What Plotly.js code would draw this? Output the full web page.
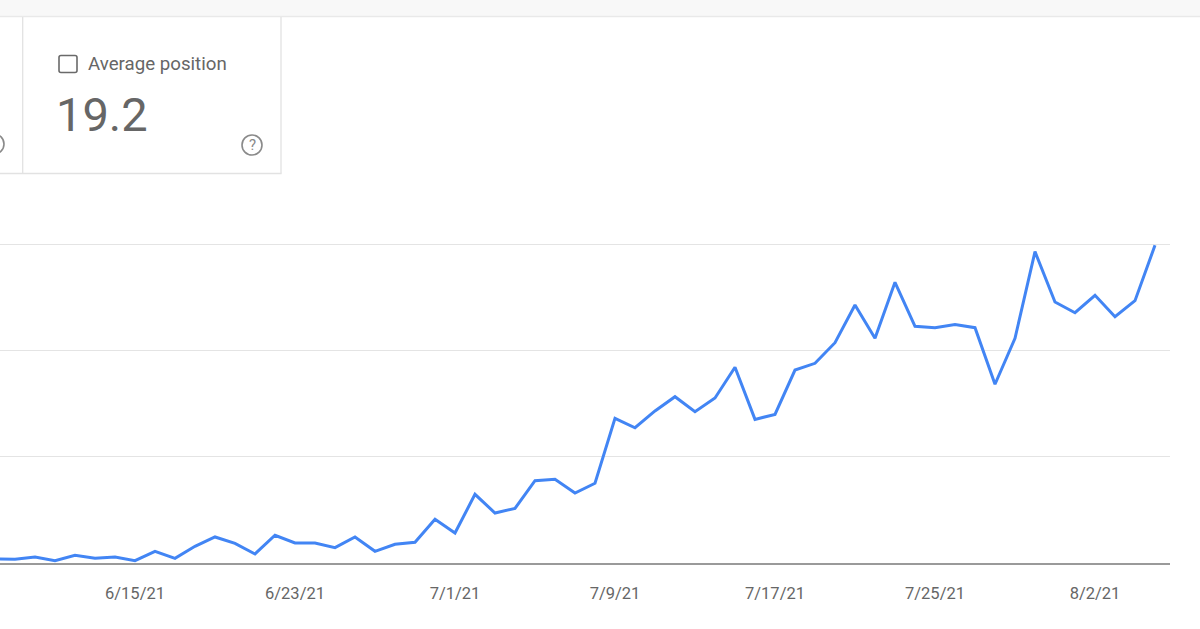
<!DOCTYPE html>
<html>
<head>
<meta charset="utf-8">
<script src="https://cdn.plot.ly/plotly-3.0.1.min.js"></script>
<style>
  html, body { margin: 0; padding: 0; background: #ffffff; }
  #chart { width: 1200px; height: 629px; }
</style>
</head>
<body>
<div id="chart"></div>
<script>
// ---- Data ----
const dates = [
  '2021-06-08','2021-06-09','2021-06-10','2021-06-11','2021-06-12','2021-06-13','2021-06-14',
  '2021-06-15','2021-06-16','2021-06-17','2021-06-18','2021-06-19','2021-06-20','2021-06-21',
  '2021-06-22','2021-06-23','2021-06-24','2021-06-25','2021-06-26','2021-06-27','2021-06-28',
  '2021-06-29','2021-06-30','2021-07-01','2021-07-02','2021-07-03','2021-07-04','2021-07-05',
  '2021-07-06','2021-07-07','2021-07-08','2021-07-09','2021-07-10','2021-07-11','2021-07-12',
  '2021-07-13','2021-07-14','2021-07-15','2021-07-16','2021-07-17','2021-07-18','2021-07-19',
  '2021-07-20','2021-07-21','2021-07-22','2021-07-23','2021-07-24','2021-07-25','2021-07-26',
  '2021-07-27','2021-07-28','2021-07-29','2021-07-30','2021-07-31','2021-08-01','2021-08-02',
  '2021-08-03','2021-08-04','2021-08-05'
];
const values = [
  0.38, 0.35, 0.56, 0.22, 0.72, 0.44, 0.56,
  0.22, 1.10, 0.44, 1.57, 2.45, 1.85, 0.85,
  2.61, 1.88, 1.88, 1.44, 2.45, 1.10, 1.76,
  1.95, 4.11, 2.82, 6.46, 4.70, 5.14, 7.74,
  7.87, 6.58, 7.50, 13.61, 12.72, 14.30, 15.64,
  14.23, 15.52, 18.41, 13.51, 13.98, 18.15, 18.78,
  20.72, 24.26, 21.13, 26.40, 22.26, 22.13, 22.43,
  22.13, 16.81, 21.13, 29.28, 24.55, 23.54, 25.18,
  23.16, 24.67, 29.88
];
const tickDates = ['2021-06-15','2021-06-23','2021-07-01','2021-07-09','2021-07-17','2021-07-25','2021-08-02'];
const tickLabels = ['6/15/21','6/23/21','7/1/21','7/9/21','7/17/21','7/25/21','8/2/21'];
const gridValues = [10, 20, 30];
const cardLabel = 'Average position';
const cardValue = '19.2';

// ---- Layout helpers (pixel -> paper) ----
const W = 1200, H = 629;
const M = { l: 0, r: 30, t: 190, b: 66 };
const PW = W - M.l - M.r, PH = H - M.t - M.b;
const px = x => (x - M.l) / PW;
const py = y => (H - M.b - y) / PH;

const grey = '#e2e2e2';
const textGrey = '#666666';

const shapes = [
  // top band
  { type: 'rect', xref: 'paper', yref: 'paper', x0: px(-5), x1: px(1205), y0: py(0), y1: py(16),
    fillcolor: '#f8f8f8', line: { width: 0 }, layer: 'above' },
  { type: 'line', xref: 'paper', yref: 'paper', x0: px(-5), x1: px(1205), y0: py(16.5), y1: py(16.5),
    line: { color: '#e9e9e9', width: 1.5 }, layer: 'above' },
  // card borders
  { type: 'line', xref: 'paper', yref: 'paper', x0: px(22.7), x1: px(22.7), y0: py(17), y1: py(173.5),
    line: { color: grey, width: 1.3 } },
  { type: 'line', xref: 'paper', yref: 'paper', x0: px(281), x1: px(281), y0: py(17), y1: py(173.5),
    line: { color: grey, width: 1.3 } },
  { type: 'line', xref: 'paper', yref: 'paper', x0: px(-5), x1: px(281.6), y0: py(173.5), y1: py(173.5),
    line: { color: grey, width: 1.3 } },
  // checkbox (rounded square)
  { type: 'path', xref: 'paper', yref: 'paper',
    path: (() => {
      const x0 = 59, x1 = 77, y0 = 55.5, y1 = 72.5, r = 2;
      const X = v => px(v), Y = v => py(v);
      return `M ${X(x0 + r)} ${Y(y0)} L ${X(x1 - r)} ${Y(y0)} Q ${X(x1)} ${Y(y0)} ${X(x1)} ${Y(y0 + r)} ` +
             `L ${X(x1)} ${Y(y1 - r)} Q ${X(x1)} ${Y(y1)} ${X(x1 - r)} ${Y(y1)} ` +
             `L ${X(x0 + r)} ${Y(y1)} Q ${X(x0)} ${Y(y1)} ${X(x0)} ${Y(y1 - r)} ` +
             `L ${X(x0)} ${Y(y0 + r)} Q ${X(x0)} ${Y(y0)} ${X(x0 + r)} ${Y(y0)} Z`;
    })(),
    line: { color: '#6a6a6a', width: 1.6 } },
  // help icon circle
  { type: 'circle', xref: 'paper', yref: 'paper', x0: px(242), x1: px(262), y0: py(135), y1: py(155),
    line: { color: '#8a8a8a', width: 1.6 } },
  // partial help icon of the card to the left (only its right edge is in view)
  { type: 'circle', xref: 'paper', yref: 'paper', x0: px(-16), x1: px(4), y0: py(134), y1: py(154),
    line: { color: '#8a8a8a', width: 1.6 } }
];

const annotations = [
  { xref: 'paper', yref: 'paper', x: px(85.5), y: py(63.5), xanchor: 'left', yanchor: 'middle',
    text: cardLabel, showarrow: false, font: { family: 'Roboto, Arial, sans-serif', size: 18.7, color: textGrey } },
  { xref: 'paper', yref: 'paper', x: px(54), y: py(114), xanchor: 'left', yanchor: 'middle',
    text: cardValue, showarrow: false, font: { family: 'Roboto, Arial, sans-serif', size: 47, color: textGrey } },
  { xref: 'paper', yref: 'paper', x: px(252), y: py(145), xanchor: 'center', yanchor: 'middle',
    text: '?', showarrow: false, font: { family: 'Roboto, Arial, sans-serif', size: 15, color: '#8a8a8a' } }
];

const trace = {
  type: 'scatter', mode: 'lines', x: dates, y: values,
  line: { color: '#4285f4', width: 3, shape: 'linear' },
  hoverinfo: 'skip'
};

const layout = {
  width: W, height: H,
  margin: M,
  paper_bgcolor: '#ffffff', plot_bgcolor: '#ffffff',
  font: { family: 'Roboto, Arial, sans-serif', color: textGrey },
  showlegend: false,
  xaxis: {
    type: 'date',
    range: ['2021-06-08 06:00', '2021-08-05 18:00'],
    tickmode: 'array', tickvals: tickDates, ticktext: tickLabels,
    ticks: 'outside', ticklen: 15, tickcolor: 'rgba(0,0,0,0)',
    tickfont: { family: 'Roboto, Arial, sans-serif', size: 16.5, color: textGrey },
    showgrid: false, zeroline: false,
    showline: true, linecolor: '#9a9a9a', linewidth: 1.5,
    fixedrange: true
  },
  yaxis: {
    range: [0, PH / 10.633],
    tickmode: 'array', tickvals: gridValues,
    showticklabels: false, ticks: '',
    showgrid: true, gridcolor: '#e4e4e4', gridwidth: 1,
    zeroline: false, showline: false,
    fixedrange: true
  },
  shapes: shapes,
  annotations: annotations
};

Plotly.newPlot('chart', [trace], layout, { displayModeBar: false, staticPlot: true });
</script>
</body>
</html>
